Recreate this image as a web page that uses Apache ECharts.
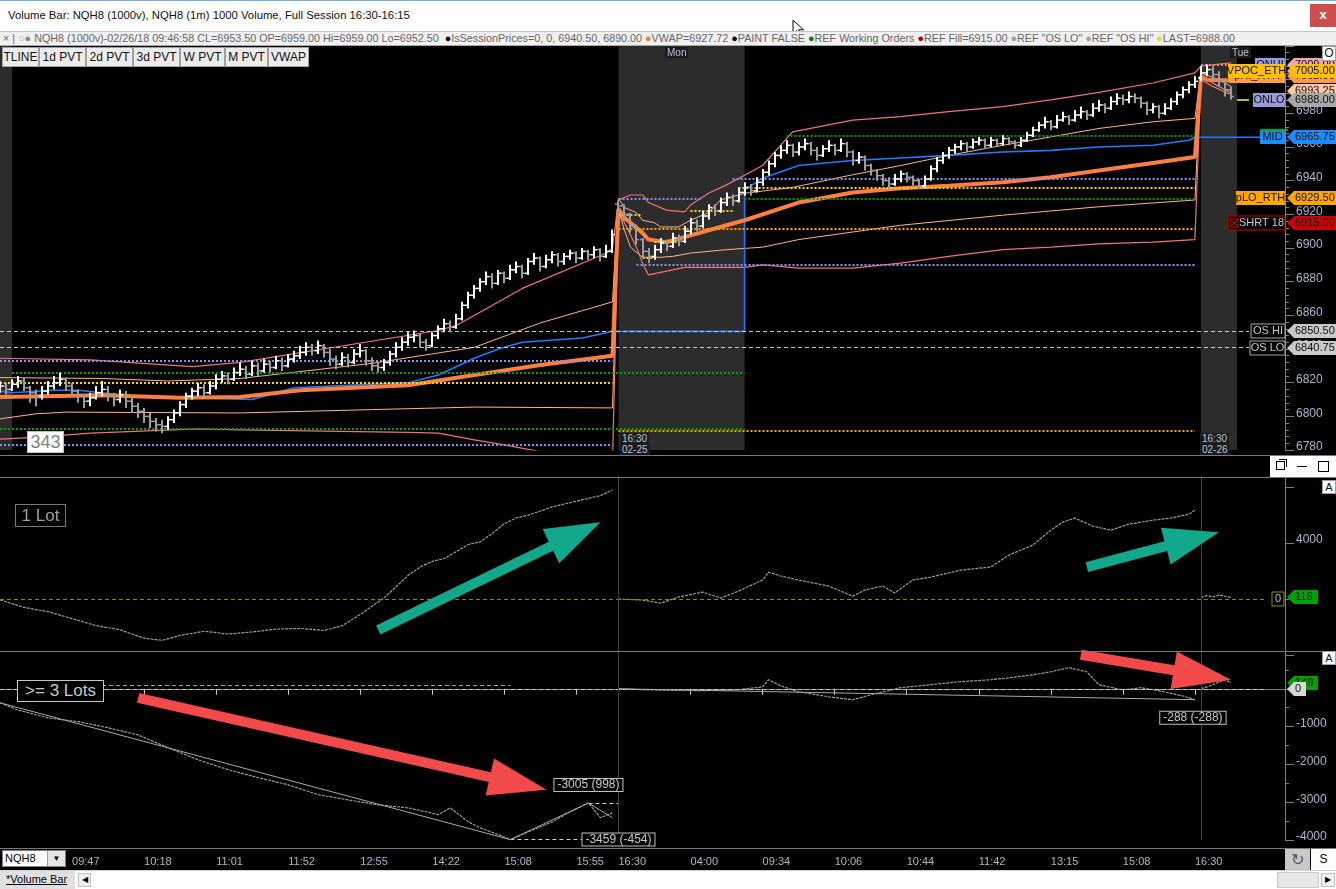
<!DOCTYPE html>
<html><head><meta charset="utf-8">
<script src="https://cdn.jsdelivr.net/npm/echarts/dist/echarts.min.js"></script>
<style>
body{margin:0;width:1336px;height:889px;overflow:hidden;background:#000;font-family:'Liberation Sans',Arial,sans-serif;}
#chart{position:absolute;left:0;top:0;width:1336px;height:889px;}
.ov{position:absolute;box-sizing:border-box;white-space:nowrap;}
#title{left:0;top:0;width:1336px;height:31px;background:#fff;border-top:1px solid #78b0e8;font-size:11.3px;color:#111;padding-left:8px;line-height:29px;}
#closeb{left:1310px;top:4px;width:26px;height:23px;background:#c9504f;color:#fff;font-size:13px;text-align:center;line-height:21px;font-weight:bold;}
#info{left:0;top:31px;width:1336px;height:15px;background:#f0f0f0;border-top:1px solid #c8c8c8;border-bottom:1px solid #a8a8a8;font-size:11px;color:#666;line-height:13px;padding-left:3px;}
#info .in{display:inline-block;transform:scaleX(0.98);transform-origin:0 50%;}
.btn{top:47px;height:20px;background:#ececec;border:1px solid #a0a0a0;font-size:12px;color:#111;text-align:center;line-height:18px;}
.hl{left:0;width:1336px;height:1px;background:#7a7a7a;}
.abox{left:1322px;width:14px;height:14px;background:#fff;border:1px solid #a0a0a0;font-size:11px;color:#111;text-align:center;line-height:12px;}
.dlab{background:#1c1c1c;color:#b8c4d4;font-size:10px;line-height:11px;padding:0 2px;}
</style></head>
<body>
<div id="chart"></div>

<div class="ov" id="title">Volume Bar: NQH8 (1000v), NQH8 (1m) 1000 Volume, Full Session 16:30-16:15</div>
<div class="ov" id="closeb">x</div>
<svg class="ov" style="left:792px;top:19px" width="14" height="20" viewBox="0 0 14 20"><path d="M1 1 L1 15 L4.5 11.5 L7 17 L9 16 L6.7 10.8 L11.5 10.8 Z" fill="#fff" stroke="#000" stroke-width="1"/></svg>
<div class="ov" id="info"><span class="in">×&nbsp;|&nbsp;<span style="color:#aaa">○</span><span style="color:#888">●</span> NQH8 (1000v)-02/26/18 09:46:58 CL=6953.50 OP=6959.00 Hi=6959.00 Lo=6952.50 &nbsp;<span style="color:#000">●</span>IsSessionPrices=0, 0, 6940.50, 6890.00 <span style="color:#f07838">●</span>VWAP=6927.72 <span style="color:#000">●</span>PAINT FALSE <span style="color:#008000">●</span>REF Working Orders <span style="color:#b00000">●</span>REF Fill=6915.00 <span style="color:#a0a0a0">●</span>REF "OS LO" <span style="color:#a0a0a0">●</span>REF "OS HI" <span style="color:#e0e000">●</span>LAST=6988.00</span></div>
<div class="ov btn" style="left:2px;width:37px">TLINE</div>
<div class="ov btn" style="left:39px;width:47px">1d PVT</div>
<div class="ov btn" style="left:86px;width:47px">2d PVT</div>
<div class="ov btn" style="left:133px;width:47px">3d PVT</div>
<div class="ov btn" style="left:180px;width:45px">W PVT</div>
<div class="ov btn" style="left:225px;width:43px">M PVT</div>
<div class="ov btn" style="left:268px;width:41px">VWAP</div>
<div class="ov" style="left:1322px;top:46px;width:14px;height:15px;background:#fff;border:1px solid #a0a0a0;font-size:12px;text-align:center;line-height:13px;color:#111">O</div>

<div class="ov dlab" style="left:665px;top:47px">Mon</div>
<div class="ov dlab" style="left:1230px;top:47px">Tue</div>
<div class="ov dlab" style="left:620px;top:433px">16:30</div>
<div class="ov dlab" style="left:620px;top:444px">02-25</div>
<div class="ov dlab" style="left:1200px;top:433px">16:30</div>
<div class="ov dlab" style="left:1200px;top:444px">02-26</div>
<div class="ov" style="left:27px;top:431px;width:37px;height:22px;background:#fff;border:1px solid #c0c0c0;color:#808080;font-size:18px;text-align:center;line-height:20px">343</div>

<div class="ov hl" style="top:455px"></div>
<div class="ov hl" style="top:477px"></div>
<div class="ov hl" style="top:651px"></div>
<div class="ov hl" style="top:848px"></div>
<div class="ov" style="left:1270px;top:456px;width:66px;height:21px;background:#fff"></div>
<div class="ov" style="left:1276px;top:461px;width:9px;height:9px;border:1px solid #000"></div>
<div class="ov" style="left:1279px;top:459px;width:8px;height:8px;border-top:1px solid #000;border-right:1px solid #000"></div>
<div class="ov" style="left:1297px;top:466px;width:10px;height:1px;background:#000"></div>
<div class="ov" style="left:1318px;top:461px;width:11px;height:11px;border:1px solid #000"></div>
<div class="ov abox" style="top:480px">A</div>
<div class="ov abox" style="top:651px">A</div>

<div class="ov" style="left:15px;top:504px;width:51px;height:23px;border:1px solid #7a7a7a;color:#a0a0a0;font-size:17px;text-align:center;line-height:21px">1 Lot</div>
<div class="ov" style="left:17px;top:680px;width:87px;height:22px;border:1px solid #c8c8c8;background:#000;color:#c8c8c8;font-size:17px;text-align:center;line-height:20px">&gt;= 3 Lots</div>

<div class="ov" style="left:2px;top:850px;width:64px;height:17px;background:#fff;border:1px solid #808080;font-size:11px;color:#000;line-height:15px;padding-left:2px">NQH8</div>
<div class="ov" style="left:47px;top:851px;width:18px;height:15px;background:#e4e4e4;border-left:1px solid #a0a0a0;font-size:8px;color:#000;text-align:center;line-height:15px">▼</div>
<div class="ov" style="left:1285px;top:849px;width:25px;height:21px;background:#c8c8c8;font-size:16px;color:#555;text-align:center;line-height:21px">↻</div>
<div class="ov" style="left:1311px;top:849px;width:25px;height:21px;background:#fff;font-size:12px;color:#000;text-align:center;line-height:21px">S</div>
<div class="ov" style="left:0;top:870px;width:1336px;height:19px;background:#fff;border-top:1px solid #d0d0d0"></div>
<div class="ov" style="left:0;top:871px;width:75px;height:18px;background:#e0e0e0;font-size:11px;color:#000;line-height:17px;padding-left:6px;text-decoration:underline">*Volume Bar</div>
<div class="ov" style="left:78px;top:873px;width:13px;height:14px;background:#f0f0f0;border:1px solid #c0c0c0;font-size:8px;text-align:center;line-height:12px">◀</div>
<div class="ov" style="left:1277px;top:872px;width:42px;height:16px;background:#e8e8e8;border:1px solid #c8c8c8"></div>
<div class="ov" style="left:1321px;top:873px;width:14px;height:14px;background:#f0f0f0;border:1px solid #c0c0c0;font-size:8px;text-align:center;line-height:12px">▶</div>

<script>
// ---------- DATA ----------
const timeTickIdx = [12,24,36,48,60,72,84,96,103,115,127,139,151,163,175,187,199];
const timeTickText = ['09:47','10:18','11:01','11:52','12:55','14:22','15:08','15:55','16:30','04:00','09:34','10:06','10:44','11:42','13:15','15:08','16:30'];

// OHLC per bar: [open, close, low, high]
const priceBars = [
[6817,6818,6814,6821],[6818,6816,6813,6820],[6816,6819,6815,6822],[6819,6821,6817,6824],[6821,6817,6815,6823],
[6817,6814,6808,6818],[6814,6812,6806,6816],[6812,6815,6810,6818],[6815,6818,6813,6821],[6818,6820,6816,6824],
[6820,6822,6818,6826],[6822,6818,6815,6823],[6818,6815,6812,6820],[6815,6812,6808,6816],[6812,6809,6805,6813],
[6809,6811,6806,6814],[6811,6814,6810,6818],[6814,6816,6812,6821],[6816,6812,6809,6818],[6812,6810,6806,6814],
[6810,6813,6808,6816],[6813,6809,6805,6815],[6809,6806,6802,6811],[6806,6803,6799,6808],[6803,6800,6796,6805],
[6800,6797,6793,6802],[6797,6795,6791,6799],[6795,6794,6790,6798],[6794,6798,6792,6800],[6798,6802,6796,6804],
[6802,6807,6800,6809],[6807,6812,6805,6814],[6812,6815,6810,6817],[6815,6817,6812,6820],[6817,6814,6811,6819],
[6814,6818,6813,6821],[6818,6822,6816,6825],[6822,6824,6820,6827],[6824,6822,6819,6826],[6822,6826,6821,6829],
[6826,6828,6824,6832],[6828,6825,6822,6830],[6825,6830,6824,6833],[6830,6827,6824,6832],[6827,6831,6826,6834],
[6831,6829,6826,6833],[6829,6833,6828,6836],[6833,6830,6827,6835],[6830,6834,6829,6837],[6834,6836,6832,6839],
[6836,6838,6834,6842],[6838,6841,6836,6844],[6841,6839,6836,6843],[6839,6842,6837,6845],[6842,6838,6835,6843],
[6838,6834,6830,6840],[6834,6831,6828,6836],[6831,6835,6830,6838],[6835,6832,6829,6837],[6832,6837,6831,6840],
[6837,6839,6835,6843],[6839,6833,6830,6840],[6833,6830,6827,6835],[6830,6829,6826,6832],[6829,6832,6827,6834],
[6832,6837,6830,6839],[6837,6841,6835,6844],[6841,6844,6839,6847],[6844,6847,6842,6850],[6847,6848,6844,6851],
[6848,6844,6841,6849],[6844,6842,6839,6846],[6842,6848,6841,6850],[6848,6852,6846,6854],[6852,6855,6850,6858],
[6855,6853,6850,6857],[6853,6858,6852,6861],[6858,6866,6857,6868],[6866,6872,6864,6874],[6872,6876,6870,6878],
[6876,6880,6874,6882],[6880,6883,6878,6886],[6883,6879,6876,6885],[6879,6885,6878,6887],[6885,6882,6879,6886],
[6882,6887,6881,6890],[6887,6889,6885,6892],[6889,6885,6882,6890],[6885,6892,6884,6894],[6892,6894,6890,6897],
[6894,6889,6886,6895],[6889,6893,6888,6896],[6893,6896,6891,6898],[6896,6892,6889,6897],[6892,6895,6890,6897],
[6895,6897,6893,6899],[6897,6894,6891,6898],[6894,6898,6893,6900],[6898,6896,6893,6899],[6896,6899,6894,6901],
[6899,6895,6892,6900],[6895,6898,6894,6902],[6898,6908,6897,6911],
[6926,6925,6918,6928],[6925,6920,6916,6926],[6920,6913,6909,6921],[6913,6905,6902,6914],[6905,6898,6894,6906],
[6898,6895,6891,6900],[6895,6899,6893,6902],[6899,6903,6897,6906],[6903,6901,6898,6905],[6901,6906,6900,6909],
[6906,6904,6901,6908],[6904,6910,6903,6913],[6910,6915,6908,6918],[6915,6913,6910,6917],[6913,6919,6912,6922],
[6919,6924,6917,6926],[6924,6922,6919,6926],[6922,6927,6921,6930],[6927,6930,6925,6933],[6930,6928,6925,6932],
[6928,6933,6927,6936],[6933,6936,6931,6939],[6936,6934,6931,6938],[6934,6939,6933,6942],[6939,6945,6937,6947],
[6945,6950,6943,6952],[6950,6955,6948,6957],[6955,6958,6953,6961],[6958,6961,6956,6964],[6961,6957,6954,6962],
[6957,6960,6955,6963],[6960,6962,6958,6965],[6962,6958,6955,6963],[6958,6955,6952,6960],[6955,6959,6954,6961],
[6959,6961,6957,6964],[6961,6958,6955,6962],[6958,6962,6957,6965],[6962,6957,6954,6963],[6957,6952,6949,6958],
[6952,6954,6950,6957],[6954,6949,6946,6955],[6949,6946,6943,6950],[6946,6943,6940,6947],[6943,6940,6937,6944],
[6940,6938,6935,6942],[6938,6941,6937,6944],[6941,6944,6939,6946],[6944,6942,6939,6945],[6942,6940,6937,6943],
[6940,6937,6935,6941],[6937,6941,6936,6943],[6941,6947,6940,6949],[6947,6952,6945,6954],[6952,6955,6950,6957],
[6955,6958,6953,6960],[6958,6960,6956,6962],[6960,6962,6958,6964],[6962,6960,6957,6963],[6960,6963,6959,6965],
[6963,6964,6961,6966],[6964,6961,6959,6965],[6961,6964,6960,6966],[6964,6962,6960,6965],[6962,6965,6961,6967],
[6965,6963,6961,6966],[6963,6961,6959,6964],[6961,6964,6960,6966],[6964,6967,6963,6969],[6967,6970,6966,6972],
[6970,6973,6969,6975],[6973,6975,6971,6978],[6975,6972,6970,6976],[6972,6976,6971,6979],[6976,6978,6975,6981],
[6978,6976,6973,6979],[6976,6979,6975,6982],[6979,6981,6977,6984],[6981,6979,6976,6982],[6979,6983,6978,6986],
[6983,6985,6981,6988],[6985,6983,6980,6986],[6983,6987,6982,6990],[6987,6989,6985,6992],[6989,6988,6985,6991],
[6988,6990,6986,6993],[6990,6989,6986,6992],[6989,6986,6983,6990],[6986,6982,6979,6987],[6982,6984,6980,6986],
[6984,6980,6977,6985],[6980,6983,6979,6986],[6983,6987,6982,6989],[6987,6991,6985,6993],[6991,6994,6989,6996],
[6994,6997,6992,6999],[6997,6999,6995,7002],
[7001,7004,6999,7008],[7004,7006,7002,7009],[7006,7003,7000,7008],[7003,6999,6996,7005],[6999,6994,6990,7000],
[6994,6990,6988,6996]
];

// [barIndex, price] points
const vwapLine = [[0,6811.5],[17,6812.5],[30,6811],[40,6811.5],[50,6815.5],[68,6818.5],[79,6824.5],[90,6830.5],[102,6836],
[103,6923],[104,6918],[107,6909],[108,6905],[111,6903.5],[115,6907.5],[121,6913.5],[124,6916.5],[133,6927],[142,6933],[150,6935.5],[158,6937],[167,6939],[175,6942],[183,6946],[192,6950.5],[199,6954],
[200,7002],[201,7000],[205,6999.5]];
const blueLine = [[0,6815],[2,6814],[9,6815.5],[13,6815.5],[22,6812],[42,6810],[49,6817],[68,6820],[73,6824.5],[79,6834.5],[83,6840],[87,6844],[97,6846.5],[102,6850.5],[124,6850.5],[124,6934.5],[127,6941.5],[133,6949],[142,6952],[150,6953.5],[158,6955],[167,6957],[175,6958],[183,6960],[192,6961],[198,6964],[199,6965.75],[210,6965.75]];
const upperRedBand = [[0,6834.5],[15,6833.5],[32,6829.5],[40,6832],[73,6851],[76,6854],[87,6876],[101,6897],[102,6900],
[103,6928.5],[105,6931.5],[107,6931.5],[108,6927],[111,6922.5],[114,6921.5],[115,6925.5],[118,6932.5],[121,6937.5],[127,6949],[132,6969],[142,6976],[150,6978],[158,6981],[167,6984],[175,6988],[183,6992.5],[192,6998],[199,7004],
[200,7008],[205,7010]];
const upperPeachBand = [[0,6823],[17,6822.5],[28,6821],[40,6822.5],[62,6831.5],[79,6841],[90,6855.5],[102,6868],
[103,6929.5],[104,6924],[106,6921],[107,6916.5],[109,6915],[110,6912.5],[113,6912.5],[115,6916.5],[118,6921],[120,6928.5],[124,6932.5],[132,6936],[142,6943.5],[150,6949],[158,6955],[167,6961],[175,6966],[183,6971],[192,6975],[199,6977],
[200,7004],[203,7000],[205,6996]];
const lowerPeachBand = [[0,6798.5],[2,6799.5],[6,6801.5],[11,6802.5],[40,6802],[62,6804],[79,6805.5],[102,6805],
[103,6922.5],[104,6910.5],[105,6900.5],[107,6894.5],[110,6894.5],[112,6895],[115,6897],[121,6899],[127,6900.5],[133,6905],[150,6913.5],[167,6919.5],[183,6924.5],[199,6928.5],
[200,7002],[203,6996],[205,6992]];
const lowerRedBand = [[0,6786.5],[6,6787.5],[15,6790],[33,6792.5],[40,6792],[68,6790.5],[73,6790],[79,6786],[84,6783],[93,6777],[102,6772],
[103,6921],[104,6915],[106,6900.5],[107,6891],[108,6884],[112,6887],[114,6888.5],[124,6888.5],[127,6890],[133,6888],[142,6888],[150,6891],[158,6895],[167,6899],[175,6900.5],[183,6902.5],[192,6903.5],[199,6905],
[200,7000],[202,6996],[205,6991]];

// reference levels: [fromBar, toBar, price, kind]
const levelLines = [
[0,102,6833,'purple'],[0,102,6783,'purple'],[2,124,6825.7,'green'],[0,124,6792.5,'green'],[0,102,6820,'yellow'],
[103,117,6929,'purple'],[106,199,6890,'purple'],[122,199,6941,'purple'],
[103,107,6919.5,'yellow'],[115,122,6922,'yellow'],[109,113,6904,'yellow'],[107,109,6894,'yellow'],[123,199,6935.5,'yellow'],
[103,199,6911.5,'orange'],[103,199,6791.3,'orange'],[124,199,6929.5,'green'],[131,199,6966.5,'green'],
[200,206,7009,'pink'],[0,208,6850.5,'os'],[0,208,6840.75,'os'],[206,208,6988,'last']
];
const sessionShades = [[0,2],[103,124],[200,206]];
const sessionStarts = [103,200];

// right-edge price flags: [name, price]
const priceFlags = [['ONHI',7009.00],['pHI_RTH',7002.00],['',6993.25],['VPOC_ETH',7005.00],['ONLO',6988.00],['MID',6965.75],['pLO_RTH',6929.50],['SHRT 18',6915.00],['OS HI',6850.50],['OS LO',6840.75]];

// 1 Lot cumulative
const oneLot = [[0,-50],[4,-600],[8,-900],[12,-1400],[16,-1900],[20,-2200],[24,-2800],[27,-2950],[30,-2600],[34,-2300],[38,-2500],[42,-2350],[46,-2150],[50,-2100],[54,-2250],[57,-1900],[60,-1100],[62,-500],[64,100],[66,900],[68,1700],[70,2300],[72,2700],[74,2900],[76,3400],[78,3900],[80,4100],[82,4700],[84,5400],[86,5800],[88,6000],[90,6300],[92,6600],[95,6900],[98,7200],[100,7400],[102,7800],
[103,0],[107,-70],[110,-290],[113,140],[117,500],[120,70],[123,570],[127,1360],[128,1930],[130,1650],[133,1360],[138,930],[142,210],[144,640],[147,930],[149,430],[152,1360],[155,1570],[160,2070],[165,2290],[168,3140],[172,3860],[175,4930],[177,5500],[179,5790],[182,5210],[185,4930],[188,5360],[192,5640],[195,5790],[198,6070],[199,6360],
[200,100],[201,250],[202,150],[203,300],[204,200],[205,120]];
// >= 3 Lots cumulative
const threeLots = [[0,-370],[3,-560],[8,-770],[13,-870],[18,-1030],[23,-1220],[28,-1560],[33,-1880],[38,-2140],[43,-2350],[48,-2540],[53,-2800],[58,-2940],[63,-3070],[68,-3150],[73,-3330],[75,-3150],[78,-3520],[80,-3680],[83,-3860],[85,-3990],[88,-3780],[92,-3520],[95,-3250],[98,-3020],[100,-3410],[102,-3280],
[103,0],[108,-30],[117,-50],[123,-20],[127,50],[128,240],[130,80],[133,-80],[138,-210],[142,-290],[145,-160],[150,30],[155,110],[160,190],[165,240],[168,290],[172,370],[175,450],[178,560],[181,450],[183,110],[187,-30],[190,30],[193,-50],[197,-190],[199,-290],
[200,0],[201,50],[202,110],[204,240],[205,160]];
const threeLotsTrends = [[[0,-370],[85,-3990]],[[85,-3990],[98,-3020]],[[98,-3020],[102,-3410]],[[103,0],[199,-288]]];
const swingMarks = [[85,-3990,'-3459 (-454)'],[98,-3020,'-3005 (998)'],[199,-288,'-288 (-288)']];
const oneLotFlags = [['116',116]];
const threeLotFlags = [['149',149],['0',0]];
const oneLotArrows = [[[63,-2214],[100,5500]],[[181,2286],[203,4786]]];
const threeLotArrows = [[[23,-238],[91,-2672]],[[180,900],[205,238]]];

// ---------- STYLES ----------
const FONT = 'Liberation Sans';
const levelStyle = {
  purple:{color:'#8c8cf0',type:[2,2],width:2}, green:{color:'#00a000',type:[2,2],width:2},
  yellow:{color:'#ffd400',type:[2,2],width:2}, orange:{color:'#ffa000',type:[2,2],width:2},
  pink:{color:'#f08080',type:[2,2],width:2}, os:{color:'#c8c8c8',type:[4,3],width:1},
  last:{color:'#ffff00',type:'solid',width:1.5}
};
const flagStyle = {
  'ONHI':{w:30,bg:'#9a9ad8',vbg:'#f2a8a8'}, 'pHI_RTH':{w:56,bg:'#ffa040',vbg:'#ff9c40'}, '':{vbg:'#ffc8a8'},
  'VPOC_ETH':{w:57,bg:'#ffc000',vbg:'#ffc000'}, 'ONLO':{w:32,bg:'#9a9ad8',vbg:'#a8a8a8'},
  'MID':{w:25,bg:'#1e8cff',vbg:'#1e8cff',top:'#00b000'}, 'pLO_RTH':{w:49,bg:'#ffa500',vbg:'#ffa500'},
  'SHRT 18':{w:57,bg:'#000',vbg:'#cc0000',border:'#d00000',fg:'#c8c8c8',icon:true},
  'OS HI':{w:34,bg:'#000',vbg:'#c8c8c8',border:'#a8a8a8',fg:'#c8c8c8'},
  'OS LO':{w:35,bg:'#000',vbg:'#c8c8c8',border:'#a8a8a8',fg:'#c8c8c8'}
};

// ---------- CHART ----------
const chart = echarts.init(document.getElementById('chart'));
const cats = Array.from({length:215},(_,i)=>String(i));
const tickMap = new Map(timeTickIdx.map((v,i)=>[v,timeTickText[i]]));
const labColor = '#a8b8cc';

function hiddenX(g){return {gridIndex:g,type:'category',data:cats,boundaryGap:false,show:false};}
const yCommon = {type:'value',position:'right',splitLine:{show:false},
  axisLine:{show:true,lineStyle:{color:'#808080'}},axisTick:{show:true,length:9,lineStyle:{color:'#808080'}},
  axisLabel:{color:labColor,fontSize:12,fontFamily:FONT,margin:11,verticalAlign:'bottom',lineHeight:6,showMaxLabel:false,formatter:(v)=>String(v)}};

function bandSeries(data,color,width,z){
  return {type:'line',xAxisIndex:0,yAxisIndex:0,data:data,symbol:'none',z:z,lineStyle:{color:color,width:width},silent:true};
}
// split a panel line into its sessions (the indicator restarts at each session)
function sessions(data){
  const bounds=[0,...sessionStarts,1e9];
  return bounds.slice(0,-1).map((b,k)=>data.filter(d=>d[0]>=b&&d[0]<bounds[k+1]));
}
const panelLine = {color:'#9a9a9a',width:1.2,type:[3,1]};
function panelSeries(axis,data,extra){
  return sessions(data).map((d,k)=>Object.assign({type:'line',xAxisIndex:axis,yAxisIndex:axis,data:d,symbol:'none',z:3,silent:true,lineStyle:panelLine},k===0?extra:{}));
}

const option = {
  backgroundColor:'#000',
  animation:false,
  textStyle:{fontFamily:FONT},
  grid:[{left:0,right:51,top:46,height:404},{left:0,right:51,top:476,height:179},{left:0,right:51,top:651,height:189}],
  xAxis:[hiddenX(0),hiddenX(1),{gridIndex:2,type:'category',data:cats,boundaryGap:false,offset:8,
    axisLine:{lineStyle:{color:'#808080'}},
    axisTick:{interval:(i)=>tickMap.has(i),length:6,lineStyle:{color:'#c8c8c8'}},
    axisLabel:{interval:(i)=>tickMap.has(i),formatter:(v,i)=>tickMap.get(i)||'',color:labColor,fontSize:11,fontFamily:FONT,align:'left',margin:8}}],
  yAxis:[
    Object.assign({},yCommon,{gridIndex:0,min:6780,max:7020,interval:20,minorTick:{show:true,splitNumber:5,length:4,lineStyle:{color:'#808080'}}}),
    Object.assign({},yCommon,{gridIndex:1,min:-4000,max:8800,interval:4000,axisLabel:Object.assign({},yCommon.axisLabel,{formatter:(v)=>(v>0&&v<8000)?String(v):''})}),
    Object.assign({},yCommon,{gridIndex:2,min:-4000,max:1000,interval:1000,minorTick:{show:true,splitNumber:2,length:4,lineStyle:{color:'#808080'}},axisLabel:Object.assign({},yCommon.axisLabel,{formatter:(v)=>v<0?String(v):''})})
  ],
  series:[
    {type:'line',xAxisIndex:0,yAxisIndex:0,data:[[0,6780]],symbol:'none',lineStyle:{opacity:0},z:0,silent:true,
      markArea:{silent:true,itemStyle:{color:'#2c2c2c'},data:sessionShades.map(s=>[{xAxis:s[0]},{xAxis:s[1]}])}},
    {type:'line',xAxisIndex:0,yAxisIndex:0,data:[[0,6780]],symbol:'none',lineStyle:{opacity:0},z:1,silent:true,
      markLine:{silent:true,symbol:['none','none'],label:{show:false},
        data:levelLines.map(l=>[{coord:[l[0],l[2]],lineStyle:levelStyle[l[3]]},{coord:[l[1],l[2]]}])}},
    bandSeries(upperRedBand,'#f07474',1.2,2),
    bandSeries(lowerRedBand,'#f07474',1.2,2),
    bandSeries(upperPeachBand,'#ffb488',1,2),
    bandSeries(lowerPeachBand,'#ffb488',1,2),
    bandSeries(blueLine,'#1f7cff',1.6,3),
    bandSeries(vwapLine,'#ff7f40',4,4),
    {type:'custom',xAxisIndex:0,yAxisIndex:0,z:5,silent:true,
      data:priceBars.map((b,i)=>[i,b[0],b[1],b[2],b[3]]),
      encode:{x:0,y:[1,2,3,4]},
      renderItem:(params,api)=>{
        const i=api.value(0),o=api.value(1),c=api.value(2),l=api.value(3),h=api.value(4);
        const pH=api.coord([i,h]),pL=api.coord([i,l]),pO=api.coord([i,o]),pC=api.coord([i,c]);
        const col=c>=o?'#ffffff':'#9c9c9c';
        const x=Math.round(pH[0]);
        return {type:'group',children:[
          {type:'line',shape:{x1:x,y1:pH[1],x2:x,y2:pL[1]},style:{stroke:col,lineWidth:2}},
          {type:'line',shape:{x1:x-3,y1:pO[1],x2:x,y2:pO[1]},style:{stroke:col,lineWidth:1.5}},
          {type:'line',shape:{x1:x,y1:pC[1],x2:x+3,y2:pC[1]},style:{stroke:col,lineWidth:1.5}}]};
      }},
    ...panelSeries(1,oneLot,{markLine:{silent:true,symbol:['none','none'],label:{show:false},data:[
        [{coord:[0,0],lineStyle:{color:'#8a8a00',type:[4,3],width:1}},{coord:[211,0]}],
        ...sessionStarts.map(s=>({xAxis:s,lineStyle:{color:'#404040',type:'solid',width:1}}))]}}),
    ...panelSeries(2,threeLots,{markLine:{silent:true,symbol:['none','none'],label:{show:false},data:[
        [{coord:[0,0],lineStyle:{color:'#c8c8c8',type:[4,3],width:1}},{coord:[211,0]}],
        [{coord:[17,106],lineStyle:{color:'#a0a0a0',type:[4,3],width:1}},{coord:[85,106]}],
        [{coord:[swingMarks[0][0],swingMarks[0][1]],lineStyle:{color:'#d0d0d0',type:[4,3],width:1}},{coord:[103,swingMarks[0][1]]}],
        [{coord:[swingMarks[1][0],swingMarks[1][1]],lineStyle:{color:'#d0d0d0',type:[4,3],width:1}},{coord:[103,swingMarks[1][1]]}],
        ...threeLotsTrends.map(t=>[{coord:t[0],lineStyle:{color:'#a8a8a8',type:'solid',width:1}},{coord:t[1]}]),
        ...sessionStarts.map(s=>({xAxis:s,lineStyle:{color:'#404040',type:'solid',width:1}}))]}})
  ]
};
chart.setOption(option);

// ---------- OVERLAY GRAPHICS (positioned through the axes) ----------
const G = [];
let zc = 100;
const FF = '11px '+FONT;
function txt(x,y,text,fill,align,extra){
  return {type:'text',z:zc+1,x:x,y:y,style:Object.assign({text:text,fill:fill,font:FF,textAlign:align,textVerticalAlign:'middle',align:align,verticalAlign:'middle'},extra||{})};
}
function valueFlag(y,text,bg,fg,right){
  G.push({type:'polygon',z:zc,shape:{points:[[1287,y],[1294,y-7],[right,y-7],[right,y+7],[1294,y+7]]},style:{fill:bg}});
  G.push(txt(1295,y,text,fg||'#111','left'));
  zc+=2;
}
priceFlags.forEach(f=>{
  const st=flagStyle[f[0]];
  const y=Math.round(chart.convertToPixel({yAxisIndex:0},f[1]));
  if(f[0]){
    G.push({type:'rect',z:zc,shape:{x:1285-st.w,y:y-7,width:st.w,height:14},style:{fill:st.bg,stroke:st.border||null,lineWidth:1}});
    if(st.top) G.push({type:'rect',z:zc,shape:{x:1285-st.w,y:y-8,width:st.w+3,height:2},style:{fill:st.top}});
    let tx=1285-st.w/2;
    if(st.icon){
      G.push({type:'rect',z:zc+1,shape:{x:1230,y:y-4,width:8,height:8},style:{fill:null,stroke:'#d00000',lineWidth:1}});
      G.push({type:'line',z:zc+1,shape:{x1:1230,y1:y-4,x2:1238,y2:y+4},style:{stroke:'#d00000'}});
      G.push({type:'line',z:zc+1,shape:{x1:1238,y1:y-4,x2:1230,y2:y+4},style:{stroke:'#d00000'}});
      tx+=5;
    }
    G.push(txt(tx,y,f[0],st.fg||'#111','center'));
  }
  valueFlag(y,f[1].toFixed(2),st.vbg,'#111',1336);
});
// lower panel flags
const z1=Math.round(chart.convertToPixel({yAxisIndex:1},0));
G.push({type:'rect',z:zc,shape:{x:1272,y:z1-7,width:12,height:14},style:{fill:'#000',stroke:'#909000',lineWidth:1}});
G.push(txt(1278,z1,'0','#c0c0c0','center'));
zc+=2;
oneLotFlags.forEach(f=>valueFlag(Math.round(chart.convertToPixel({yAxisIndex:1},f[1])),f[0],'#00a000','#111',1318));
threeLotFlags.forEach(f=>valueFlag(Math.round(chart.convertToPixel({yAxisIndex:2},f[1])),f[0],f[0]==='0'?'#d8d8d8':'#00a000','#111',f[0]==='0'?1306:1318));

// swing labels
function boxLabel(x,y,text,align){
  G.push(txt(x,y,text,'#c8c8c8',align,{font:'12px '+FONT,backgroundColor:'#000',borderColor:'#c0c0c0',borderWidth:1,padding:[0,3,0,3]}));
}
{
  const p0=chart.convertToPixel({gridIndex:2},[swingMarks[0][0],swingMarks[0][1]]);
  const px=chart.convertToPixel({gridIndex:2},[97,swingMarks[0][1]]);
  boxLabel(px[0],p0[1],swingMarks[0][2],'left');
  const p1=chart.convertToPixel({gridIndex:2},[swingMarks[1][0],swingMarks[1][1]]);
  boxLabel(p1[0],p1[1]-18,swingMarks[1][2],'center');
  const p2=chart.convertToPixel({gridIndex:2},[swingMarks[2][0],swingMarks[2][1]]);
  boxLabel(p2[0]-2,p2[1]+18,swingMarks[2][2],'center');
}

// arrows
function arrow(t,p,sw,hl,hw,color){
  const dx=p[0]-t[0],dy=p[1]-t[1],L=Math.hypot(dx,dy),ux=dx/L,uy=dy/L,nx=-uy,ny=ux;
  const bx=p[0]-ux*hl,by=p[1]-uy*hl;
  G.push({type:'polygon',z:90,shape:{points:[[t[0]+nx*sw,t[1]+ny*sw],[bx+nx*sw,by+ny*sw],[bx+nx*hw,by+ny*hw],[p[0],p[1]],[bx-nx*hw,by-ny*hw],[bx-nx*sw,by-ny*sw],[t[0]-nx*sw,t[1]-ny*sw]]},style:{fill:color}});
}
oneLotArrows.forEach(a=>arrow(chart.convertToPixel({gridIndex:1},a[0]),chart.convertToPixel({gridIndex:1},a[1]),5,55,19,'#12a88c'));
threeLotArrows.forEach(a=>arrow(chart.convertToPixel({gridIndex:2},a[0]),chart.convertToPixel({gridIndex:2},a[1]),5,58,19,'#f24a4a'));

chart.setOption({graphic:{elements:G}});
</script>
</body></html>
